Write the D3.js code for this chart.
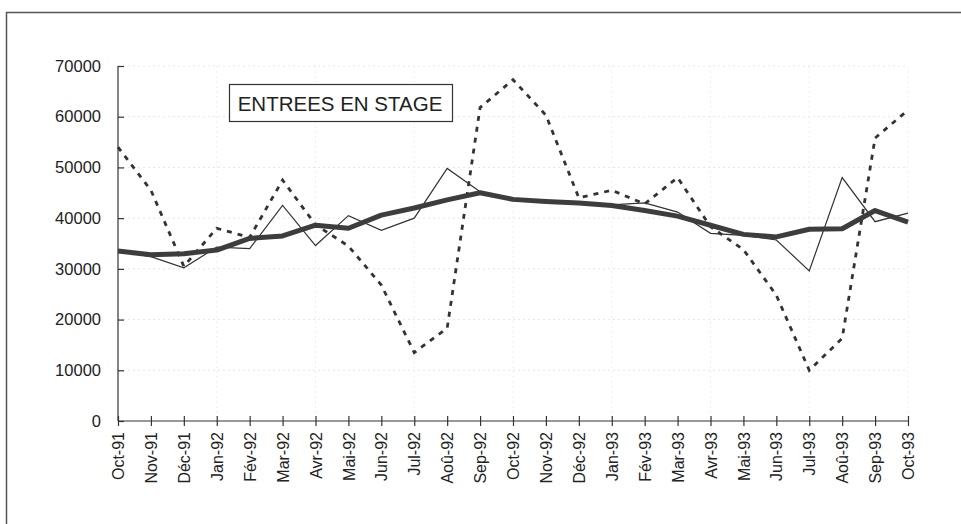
<!DOCTYPE html>
<html>
<head>
<meta charset="utf-8">
<script src="https://cdn.jsdelivr.net/npm/d3@7"></script>
<style>
body { margin:0; background:#fff; }
svg { font-family: "Liberation Sans", Arial, sans-serif; }
.axis path, .axis line { stroke:#333; stroke-width:1.2; }
.axis text { fill:#222; }
</style>
</head>
<body>
<div id="chart"></div>
<script>
var months = ["Oct-91","Nov-91","Déc-91","Jan-92","Fév-92","Mar-92","Avr-92","Mai-92","Jun-92","Jul-92","Aoû-92","Sep-92",
              "Oct-92","Nov-92","Déc-92","Jan-93","Fév-93","Mar-93","Avr-93","Mai-93","Jun-93","Jul-93","Aoû-93","Sep-93","Oct-93"];

// brut (pointilles)
var brut = [54000,45500,30500,38000,36200,47500,38700,34500,26800,13500,18300,61800,
            67300,60300,44000,45500,42800,48000,38300,33800,24800,10000,16300,55800,61300];
// cvs (trait fin)
var cvs = [33500,32400,30200,34300,34000,42500,34600,40500,37600,40000,49800,45200,
           43600,43200,42900,42600,43000,41200,37000,36600,35700,29600,48000,39300,41000];
// tendance (trait epais)
var tendance = [33500,32800,33000,33700,36000,36500,38600,38000,40600,42000,43600,45000,
                43700,43300,43000,42500,41500,40400,38600,36800,36300,37800,37900,41500,39200];

var yTicks = [0,10000,20000,30000,40000,50000,60000,70000];

var W = 961, H = 524;
var margin = {t:66, l:118, r:53, b:103};
var width = W - margin.l - margin.r,
    height = H - margin.t - margin.b;

var svg = d3.select('#chart').append('svg')
    .attr('width', W)
    .attr('height', H);

// cadre
svg.append('rect')
    .attr('x', 6.5).attr('y', 12.5)
    .attr('width', W + 10).attr('height', H + 10)
    .attr('fill', 'none')
    .attr('stroke', '#555')
    .attr('stroke-width', 1.5);

var g = svg.append('g')
    .attr('transform', 'translate(' + margin.l + ',' + margin.t + ')');

var x = d3.scalePoint().domain(months).range([0, width]);
var y = d3.scaleLinear().domain([0, 70000]).range([height, 0]);

// quadrillage tres pale (comme sur le scan)
g.selectAll('.hgrid').data(yTicks.slice(1)).enter().append('line')
    .attr('x1', 0).attr('x2', width)
    .attr('y1', function(d){ return y(d); }).attr('y2', function(d){ return y(d); })
    .attr('stroke', '#e6e6e6').attr('stroke-dasharray', '2,3');

g.selectAll('.vgrid').data(months.filter(function(d,i){ return i > 0 && i % 3 === 0; })).enter().append('line')
    .attr('x1', function(d){ return x(d); }).attr('x2', function(d){ return x(d); })
    .attr('y1', 0).attr('y2', height)
    .attr('stroke', '#eeeeee').attr('stroke-dasharray', '2,3');

// axes
var axisY = g.append('g').attr('class', 'axis')
    .call(d3.axisLeft(y).tickValues(yTicks).tickSize(6).tickFormat(d3.format('d')));
axisY.selectAll('.tick line').attr('x2', 6);
axisY.select('.domain').attr('d', 'M0,0V' + height);
axisY.selectAll('text').attr('x', -17).style('font-size', '16.5px');

var axisX = g.append('g').attr('class', 'axis')
    .attr('transform', 'translate(0,' + height + ')')
    .call(d3.axisBottom(x).tickSize(5));
axisX.selectAll('.tick line').attr('y1', -5);
axisX.select('.domain').attr('d', 'M0,0H' + width);
axisX.selectAll('text')
    .style('font-size', '16px')
    .attr('text-anchor', 'end')
    .attr('dy', '0.35em')
    .attr('transform', 'translate(0,11) rotate(-90)')
    .attr('x', 0).attr('y', 0);

var line = d3.line()
    .x(function(d, i){ return x(months[i]); })
    .y(function(d){ return y(d); });

g.append('path').datum(brut)
    .attr('d', line)
    .attr('fill', 'none')
    .attr('stroke', '#333')
    .attr('stroke-width', 2.8)
    .attr('stroke-dasharray', '5,6');

g.append('path').datum(cvs)
    .attr('d', line)
    .attr('fill', 'none')
    .attr('stroke', '#333')
    .attr('stroke-width', 1.2);

g.append('path').datum(tendance)
    .attr('d', line)
    .attr('fill', 'none')
    .attr('stroke', '#3d3d3d')
    .attr('stroke-width', 5)
    .attr('stroke-linejoin', 'round');

// titre encadre
svg.append('rect')
    .attr('x', 229.5).attr('y', 84.5)
    .attr('width', 223).attr('height', 37)
    .attr('fill', '#fff')
    .attr('stroke', '#333')
    .attr('stroke-width', 1.2);
svg.append('text')
    .attr('x', 340).attr('y', 111)
    .attr('text-anchor', 'middle')
    .style('font-size', '20.5px')
    .attr('fill', '#222')
    .text('ENTREES EN STAGE');
</script>
</body>
</html>
